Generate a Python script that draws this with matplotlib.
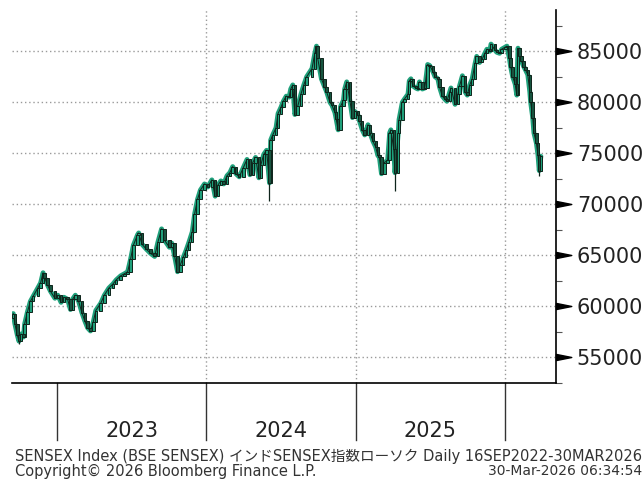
import matplotlib
matplotlib.use("Agg")
import numpy as np
import pandas as pd
import matplotlib.pyplot as plt
import matplotlib.dates as mdates
from matplotlib.path import Path
from matplotlib.transforms import blended_transform_factory

# daily candles (roughly weekly samples)
dates = [
    "2022-09-16", "2022-09-20", "2022-09-26", "2022-09-30", "2022-10-05", "2022-10-11",
    "2022-10-14", "2022-10-21", "2022-10-28", "2022-11-04", "2022-11-15", "2022-11-22",
    "2022-11-28", "2022-12-02", "2022-12-09", "2022-12-16", "2022-12-27",
    "2023-01-03", "2023-01-11", "2023-01-18", "2023-01-27", "2023-02-03", "2023-02-08",
    "2023-02-15", "2023-02-23", "2023-03-03", "2023-03-10", "2023-03-17", "2023-03-24",
    "2023-03-31", "2023-04-06", "2023-04-18", "2023-04-27", "2023-05-08", "2023-05-18",
    "2023-05-26", "2023-06-06", "2023-06-15", "2023-06-23", "2023-06-30", "2023-07-07",
    "2023-07-17", "2023-07-20", "2023-07-28", "2023-08-08", "2023-08-18", "2023-08-28",
    "2023-09-05", "2023-09-14", "2023-09-21", "2023-10-03", "2023-10-09", "2023-10-16",
    "2023-10-23", "2023-10-30", "2023-11-06", "2023-11-13", "2023-11-20", "2023-11-28",
    "2023-12-04", "2023-12-11", "2023-12-18", "2023-12-28",
    "2024-01-05", "2024-01-15", "2024-01-23", "2024-01-30", "2024-02-06", "2024-02-13",
    "2024-02-21", "2024-02-28", "2024-03-06", "2024-03-14", "2024-03-22", "2024-04-01",
    "2024-04-10", "2024-04-17", "2024-04-24", "2024-05-01", "2024-05-09", "2024-05-14",
    "2024-05-21", "2024-05-28", "2024-06-04", "2024-06-07", "2024-06-12", "2024-06-20",
    "2024-06-25", "2024-07-02", "2024-07-08", "2024-07-15", "2024-07-22", "2024-07-26",
    "2024-07-31", "2024-08-05", "2024-08-12", "2024-08-20", "2024-08-27", "2024-09-03",
    "2024-09-16", "2024-09-23", "2024-09-27", "2024-09-30", "2024-10-09", "2024-10-17",
    "2024-10-22", "2024-10-30", "2024-11-04", "2024-11-11", "2024-11-14", "2024-11-19",
    "2024-11-25", "2024-12-02", "2024-12-05", "2024-12-10", "2024-12-18", "2024-12-24",
    "2024-12-30",
    "2025-01-06", "2025-01-10", "2025-01-17", "2025-01-23", "2025-01-31", "2025-02-05",
    "2025-02-12", "2025-02-19", "2025-02-24", "2025-02-28", "2025-03-05", "2025-03-12",
    "2025-03-20", "2025-03-25", "2025-03-28", "2025-04-04", "2025-04-07", "2025-04-15",
    "2025-04-17", "2025-04-25", "2025-04-30", "2025-05-09", "2025-05-12", "2025-05-16",
    "2025-05-21", "2025-05-28", "2025-06-02", "2025-06-06", "2025-06-13", "2025-06-19",
    "2025-06-26", "2025-07-01", "2025-07-09", "2025-07-14", "2025-07-21", "2025-07-25",
    "2025-08-01", "2025-08-07", "2025-08-12", "2025-08-19", "2025-08-22", "2025-09-01",
    "2025-09-08", "2025-09-12", "2025-09-19", "2025-09-26", "2025-10-01", "2025-10-07",
    "2025-10-13", "2025-10-20", "2025-10-24", "2025-10-31", "2025-11-06", "2025-11-13",
    "2025-11-18", "2025-11-25", "2025-11-28", "2025-12-08", "2025-12-12", "2025-12-19",
    "2025-12-24",
    "2026-01-02", "2026-01-06", "2026-01-12", "2026-01-15", "2026-01-20", "2026-01-26",
    "2026-01-30", "2026-02-02", "2026-02-06", "2026-02-11", "2026-02-16", "2026-02-20",
    "2026-02-26", "2026-03-03", "2026-03-05", "2026-03-10", "2026-03-13", "2026-03-19",
    "2026-03-23", "2026-03-26", "2026-03-30",
]
closes = [
    59300, 58300, 57200, 56600, 57300, 57000,
    58300, 59500, 60500, 61000, 61800, 62300,
    63300, 62800, 62100, 61500, 60800,
    61100, 60400, 60900, 60700, 59700, 60700,
    61100, 60500, 59400, 58600, 57900, 57600,
    58500, 59600, 60300, 61100, 61800, 62200,
    62600, 63000, 63200, 63400, 64600, 66000,
    67000, 67200, 66100, 65600, 65200, 64900,
    66300, 67600, 66500, 65800, 66200, 64900,
    63400, 64100, 64800, 65500, 66300, 67300,
    69100, 70500, 71400, 72000,
    71700, 72400, 70800, 71900, 72300, 72000,
    72800, 73100, 73700, 73000, 72700, 73600,
    74400, 72900, 74100, 74600, 72600, 73900,
    74900, 75300, 72100, 76300, 76800, 77500,
    78900, 79500, 80100, 80600, 80500, 81300,
    81700, 78800, 79600, 80800, 81700, 82500,
    83300, 84800, 85500, 84300, 82300, 81500,
    81000, 80000, 79700, 79000, 78400, 77300,
    79600, 80200, 81300, 82000, 80100, 78500,
    79100,
    78800, 78200, 77300, 76800, 77800, 77000,
    76200, 75600, 74800, 74600, 73000, 74100,
    74300, 77000, 77300, 75400, 73100, 77000,
    78300, 80000, 80300, 80800, 82100, 82300,
    81600, 81400, 81300, 82000, 81300, 81400,
    83700, 83600, 83000, 82500, 82300, 81500,
    80600, 80300, 80100, 81000, 81400, 79800,
    80800, 81600, 82600, 81000, 80700, 81700,
    82300, 83800, 84500, 83900, 84200, 84800,
    85200, 85000, 85700, 85100, 84900, 84800,
    85200,
    85400, 85500, 84300, 83500, 82500, 81800,
    80700, 85300, 84500, 84000, 83500, 83200,
    82700, 81000, 80000, 78500, 77000, 76000,
    74800, 73300, 74700,
]
first_open = 58900
wick_dates = ["2022-09-30", "2024-06-04", "2025-04-07", "2026-03-26"]
wick_lows = [56300, 70300, 71300, 72800]

year_starts = ["2023-01-01", "2024-01-01", "2025-01-01", "2026-01-01"]
year_labels = ["2023", "2024", "2025"]
grid_years = ["2024-01-01", "2025-01-01", "2026-01-01"]
y_ticks = [55000, 60000, 65000, 70000, 75000, 80000, 85000]

UP = "#1fa07b"
DOWN = "#0e241b"

fig = plt.figure(figsize=(6.44, 4.84), dpi=100)
ax = fig.add_axes([12 / 644, 1 - 383 / 484, 544 / 644, 373 / 484])

x = mdates.date2num(pd.to_datetime(dates))
c = np.array(closes, dtype=float)
o = np.concatenate([[first_open], c[:-1]])
lo = np.minimum(o, c)
hi = np.maximum(o, c)
wx = mdates.date2num(pd.to_datetime(wick_dates))
for d, l in zip(wx, wick_lows):
    i = np.argmin(np.abs(x - d))
    lo[i] = l

up = c >= o
ax.plot(x, c, color=UP, lw=3.5, solid_joinstyle="round", solid_capstyle="round", zorder=2)
ax.vlines(x, lo, hi, color=DOWN, lw=0.9, zorder=3)
ax.plot(x, c, color=DOWN, lw=0.7, zorder=3)
ax.bar(x[up], (c - o)[up], bottom=o[up], width=6, color=UP,
       edgecolor=DOWN, linewidth=0.7, zorder=4)
ax.bar(x[~up], (o - c)[~up], bottom=c[~up], width=6, color="#17543f",
       edgecolor=DOWN, linewidth=0.7, zorder=4)

ax.set_xlim(mdates.date2num(pd.Timestamp("2022-09-13")),
            mdates.date2num(pd.Timestamp("2026-05-06")))
ax.set_ylim(53170, 89040)

for s in ["top", "left"]:
    ax.spines[s].set_visible(False)
ax.spines["right"].set_linewidth(1.2)
ax.spines["bottom"].set_linewidth(1.2)

ax.yaxis.tick_right()
ax.set_yticks(y_ticks)
ax.set_yticklabels([str(v) for v in y_ticks], fontsize=15, color="#222222")
ax.set_yticks(np.arange(52500, 90000, 5000), minor=True)
ax.tick_params(axis="y", which="major", length=0, pad=15)
ax.tick_params(axis="y", which="minor", length=4, width=0.8, color="#555555")
ax.set_xticks([])

for v in y_ticks:
    ax.axhline(v, color="#9a9a9a", lw=1.0, ls=(0, (1, 2)), zorder=1)
for g in grid_years:
    ax.axvline(mdates.date2num(pd.Timestamp(g)), color="#9a9a9a", lw=1.0,
               ls=(0, (1, 2)), zorder=1)

# tick wedges on the right axis
wedge = Path([(0, 0.2), (1, 0), (0, -0.2), (0, 0.2)],
             [Path.MOVETO, Path.LINETO, Path.LINETO, Path.CLOSEPOLY])
ytrans = blended_transform_factory(ax.transAxes, ax.transData)
ax.plot([1.0] * len(y_ticks), y_ticks, transform=ytrans, ls="none",
        marker=wedge, markersize=22, color="black", clip_on=False, zorder=5)

# year separators and labels below the axis
xtrans = blended_transform_factory(ax.transData, ax.transAxes)
ys = mdates.date2num(pd.to_datetime(year_starts))
for v in ys:
    ax.plot([v, v], [0, -0.153], transform=xtrans, color="#333333", lw=1.0,
            clip_on=False)
for a, b, lab in zip(ys[:-1], ys[1:], year_labels):
    ax.text((a + b) / 2, -0.128, lab, transform=xtrans, ha="center", va="center",
            fontsize=15, color="#222222")

fam = ["DejaVu Sans", "Noto Sans CJK JP"]
fig.text(15 / 644, 1 - 456 / 484,
         "SENSEX Index (BSE SENSEX) インドSENSEX指数ローソク Daily 16SEP2022-30MAR2026",
         family=fam, fontsize=10.5, color="#333333", va="center", ha="left")
fig.text(15 / 644, 1 - 471 / 484, "Copyright© 2026 Bloomberg Finance L.P.",
         family=fam, fontsize=10.5, color="#333333", va="center", ha="left")
fig.text(642 / 644, 1 - 471 / 484, "30-Mar-2026 06:34:54",
         family=fam, fontsize=10, color="#333333", va="center", ha="right")

fig.savefig("out.png", dpi=100)
